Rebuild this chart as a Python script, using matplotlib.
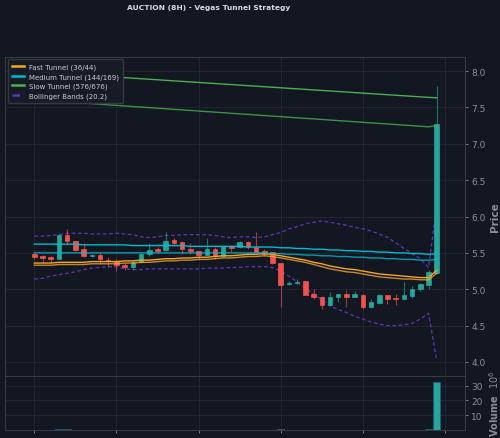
import numpy as np
import matplotlib.pyplot as plt
from matplotlib.patches import Rectangle

# candle data
opens = [5.49, 5.46, 5.45, 5.42, 5.75, 5.66, 5.55, 5.46, 5.47, 5.40,
         5.39, 5.34, 5.31, 5.37, 5.48, 5.55, 5.54, 5.68, 5.65, 5.55,
         5.53, 5.47, 5.55, 5.46, 5.59, 5.58, 5.65, 5.58, 5.53, 5.51,
         5.36, 5.07, 5.08, 5.11, 4.93, 4.90, 4.79, 4.90, 4.93, 4.90,
         4.92, 4.75, 4.81, 4.92, 4.88, 4.86, 4.91, 5.00, 5.06, 5.23]
highs = [5.50, 5.47, 5.46, 5.76, 5.83, 5.67, 5.63, 5.49, 5.51, 5.44,
         5.42, 5.36, 5.40, 5.50, 5.64, 5.58, 5.79, 5.71, 5.65, 5.63,
         5.53, 5.70, 5.58, 5.59, 5.60, 5.66, 5.66, 5.79, 5.55, 5.51,
         5.36, 5.12, 5.14, 5.11, 5.00, 4.91, 4.96, 4.94, 4.99, 4.98,
         4.94, 4.86, 4.93, 4.92, 4.93, 5.10, 5.05, 5.08, 5.26, 7.80]
lows = [5.41, 5.37, 5.36, 5.41, 5.61, 5.52, 5.45, 5.45, 5.35, 5.30,
        5.25, 5.27, 5.27, 5.36, 5.46, 5.50, 5.52, 5.61, 5.49, 5.49,
        5.42, 5.47, 5.41, 5.45, 5.51, 5.57, 5.56, 5.50, 5.46, 5.35,
        4.75, 5.06, 5.07, 4.92, 4.86, 4.73, 4.78, 4.82, 4.75, 4.90,
        4.73, 4.74, 4.80, 4.80, 4.79, 4.86, 4.88, 4.98, 5.00, 5.21]
closes = [5.45, 5.43, 5.42, 5.75, 5.66, 5.54, 5.46, 5.47, 5.42, 5.39,
          5.33, 5.31, 5.37, 5.49, 5.54, 5.53, 5.67, 5.64, 5.55, 5.52,
          5.47, 5.55, 5.46, 5.59, 5.57, 5.65, 5.58, 5.51, 5.49, 5.36,
          5.06, 5.09, 5.10, 4.92, 4.89, 4.79, 4.90, 4.93, 4.90, 4.93,
          4.75, 4.82, 4.92, 4.87, 4.86, 4.92, 5.01, 5.07, 5.24, 7.27]
volumes = [0.1, 0.1, 0.1, 0.4, 0.4, 0.1, 0.1, 0.0, 0.1, 0.1,
           0.1, 0.0, 0.1, 0.1, 0.1, 0.0, 0.1, 0.0, 0.1, 0.0,
           0.1, 0.1, 0.1, 0.1, 0.0, 0.1, 0.1, 0.1, 0.1, 0.1,
           0.4, 0.1, 0.0, 0.1, 0.1, 0.1, 0.1, 0.0, 0.1, 0.0,
           0.1, 0.1, 0.1, 0.0, 0.1, 0.1, 0.1, 0.1, 0.4, 32.7]

# indicator lines
fast_a = [5.36, 5.36, 5.36, 5.37, 5.37, 5.37, 5.37, 5.38, 5.38, 5.38,
          5.38, 5.39, 5.39, 5.40, 5.40, 5.41, 5.42, 5.42, 5.43, 5.43,
          5.44, 5.44, 5.45, 5.46, 5.46, 5.47, 5.48, 5.48, 5.49, 5.48,
          5.46, 5.44, 5.42, 5.40, 5.37, 5.35, 5.32, 5.30, 5.28, 5.27,
          5.25, 5.23, 5.21, 5.20, 5.19, 5.18, 5.17, 5.16, 5.16, 5.26]
fast_b = [5.33, 5.33, 5.33, 5.34, 5.34, 5.34, 5.34, 5.35, 5.35, 5.35,
          5.35, 5.36, 5.36, 5.37, 5.37, 5.38, 5.39, 5.39, 5.40, 5.40,
          5.41, 5.41, 5.42, 5.43, 5.43, 5.44, 5.45, 5.45, 5.46, 5.45,
          5.43, 5.41, 5.39, 5.37, 5.34, 5.31, 5.28, 5.26, 5.24, 5.23,
          5.21, 5.19, 5.17, 5.16, 5.15, 5.14, 5.14, 5.13, 5.13, 5.22]
med_a = [5.62, 5.62, 5.62, 5.62, 5.62, 5.62, 5.61, 5.61, 5.61, 5.61,
         5.61, 5.61, 5.60, 5.60, 5.60, 5.60, 5.60, 5.60, 5.60, 5.59,
         5.59, 5.59, 5.59, 5.59, 5.59, 5.59, 5.58, 5.58, 5.58, 5.58,
         5.57, 5.57, 5.56, 5.56, 5.55, 5.55, 5.54, 5.54, 5.53, 5.53,
         5.52, 5.52, 5.51, 5.51, 5.50, 5.50, 5.49, 5.49, 5.48, 5.49]
med_b = [5.50, 5.50, 5.50, 5.50, 5.50, 5.50, 5.50, 5.50, 5.50, 5.50,
         5.50, 5.50, 5.50, 5.50, 5.50, 5.50, 5.50, 5.50, 5.50, 5.50,
         5.50, 5.50, 5.50, 5.50, 5.50, 5.50, 5.50, 5.50, 5.50, 5.49,
         5.49, 5.48, 5.48, 5.47, 5.47, 5.46, 5.46, 5.45, 5.45, 5.44,
         5.44, 5.43, 5.43, 5.42, 5.42, 5.41, 5.41, 5.40, 5.40, 5.41]
slow_a = [7.990, 7.982, 7.975, 7.968, 7.960, 7.953, 7.946, 7.938, 7.931, 7.924,
          7.916, 7.909, 7.902, 7.894, 7.887, 7.880, 7.872, 7.865, 7.858, 7.850,
          7.843, 7.836, 7.828, 7.821, 7.814, 7.806, 7.799, 7.792, 7.784, 7.777,
          7.770, 7.762, 7.755, 7.748, 7.740, 7.733, 7.726, 7.718, 7.711, 7.704,
          7.696, 7.689, 7.682, 7.674, 7.667, 7.660, 7.652, 7.645, 7.638, 7.632]
slow_b = [7.605, 7.597, 7.590, 7.582, 7.574, 7.566, 7.559, 7.551, 7.543, 7.535,
          7.528, 7.520, 7.512, 7.504, 7.497, 7.489, 7.481, 7.473, 7.466, 7.458,
          7.450, 7.442, 7.435, 7.427, 7.419, 7.411, 7.404, 7.396, 7.388, 7.380,
          7.373, 7.365, 7.357, 7.349, 7.342, 7.334, 7.326, 7.318, 7.311, 7.303,
          7.295, 7.287, 7.280, 7.272, 7.264, 7.256, 7.249, 7.241, 7.233, 7.250]
bb_upper = [5.73, 5.73, 5.74, 5.75, 5.77, 5.77, 5.77, 5.76, 5.76, 5.76,
            5.77, 5.76, 5.75, 5.72, 5.71, 5.72, 5.74, 5.74, 5.75, 5.75,
            5.75, 5.75, 5.74, 5.72, 5.71, 5.72, 5.72, 5.71, 5.72, 5.75,
            5.78, 5.83, 5.86, 5.90, 5.92, 5.94, 5.92, 5.90, 5.88, 5.85,
            5.83, 5.80, 5.76, 5.71, 5.64, 5.56, 5.49, 5.42, 5.30, 6.15]
bb_lower = [5.14, 5.15, 5.18, 5.20, 5.22, 5.24, 5.27, 5.29, 5.30, 5.31,
            5.31, 5.28, 5.27, 5.27, 5.28, 5.28, 5.28, 5.28, 5.28, 5.28,
            5.28, 5.29, 5.29, 5.29, 5.30, 5.30, 5.31, 5.31, 5.31, 5.30,
            5.25, 5.18, 5.10, 5.02, 4.93, 4.86, 4.77, 4.72, 4.68, 4.63,
            4.59, 4.55, 4.52, 4.50, 4.50, 4.51, 4.53, 4.59, 4.67, 4.02]

bg = "#131722"
grid_c = "#232733"
text_c = "#8a8e99"
up_c = "#26a69a"
down_c = "#ef5350"

fig = plt.figure(figsize=(5, 4.39), dpi=100, facecolor=bg)
ax = fig.add_axes([0.01, 1 - 377.3 / 439, 0.92, (377.3 - 57.7) / 439])
axv = fig.add_axes([0.01, 1 - 430.7 / 439, 0.92, (430.7 - 377.3) / 439], sharex=ax)

x = np.arange(len(opens))

for a in (ax, axv):
    a.set_facecolor(bg)
    for s in a.spines.values():
        s.set_color("#363a45")
        s.set_linewidth(0.8)
    a.grid(True, color=grid_c, linewidth=0.6)
    a.yaxis.tick_right()
    a.yaxis.set_label_position("right")
    a.tick_params(colors=text_c, labelsize=6.5, length=2.5, width=0.6, pad=2)

# candles
w = 0.55
for i in x:
    o, h, l, c = opens[i], highs[i], lows[i], closes[i]
    col = up_c if c >= o else down_c
    ax.vlines(i, l, h, color=col, linewidth=0.8, alpha=0.65, zorder=3)
    bottom = min(o, c)
    height = max(abs(c - o), 0.006)
    ax.add_patch(Rectangle((i - w / 2, bottom), w, height, facecolor=col,
                           edgecolor=col, linewidth=0.5, zorder=4))

ax.plot(x, fast_a, color="#f5a623", linewidth=1.0, zorder=5, label="Fast Tunnel (36/44)")
ax.plot(x, fast_b, color="#f5a623", linewidth=1.0, zorder=5, alpha=0.8)
ax.plot(x, med_a, color="#00bcd4", linewidth=1.0, zorder=5, label="Medium Tunnel (144/169)")
ax.plot(x, med_b, color="#00bcd4", linewidth=1.0, zorder=5, alpha=0.8)
ax.plot(x, slow_a, color="#4caf50", linewidth=1.0, zorder=5, label="Slow Tunnel (576/676)")
ax.plot(x, slow_b, color="#4caf50", linewidth=1.0, zorder=5, alpha=0.8)
ax.plot(x, bb_upper, color="#5e35b1", linewidth=0.9, linestyle=(0, (3, 2)), zorder=2,
        label="Bollinger Bands (20.2)")
ax.plot(x, bb_lower, color="#5e35b1", linewidth=0.9, linestyle=(0, (3, 2)), zorder=2)

ax.set_ylim(3.803, 8.197)
ax.set_yticks(np.arange(4.0, 8.01, 0.5))
ax.set_ylabel("Price", color=text_c, fontsize=7.5, fontweight="bold", labelpad=3)
ax.tick_params(axis="x", labelbottom=False, length=0)

leg = ax.legend(loc="upper left", fontsize=5.0, facecolor="#181c27", edgecolor="#363a45",
                labelcolor="#c8ccd4", framealpha=0.95, handlelength=1.7, borderpad=0.6,
                labelspacing=0.45, handletextpad=0.8, borderaxespad=0.4)
for line in leg.get_lines():
    line.set_linewidth(1.8)

# volume
vcols = [up_c if closes[i] >= opens[i] else down_c for i in x]
axv.bar(x, volumes, width=0.9, color=vcols, edgecolor="#1d5f7a", linewidth=0.5, zorder=3)
axv.set_ylim(0, 36.4)
axv.set_yticks([10, 20, 30])
axv.set_ylabel("Volume  $10^6$", color=text_c, fontsize=7, fontweight="bold", labelpad=3)
axv.set_xlim(-3.57, 52.44)
axv.set_xticks([0, 10, 20, 30, 40, 50])
axv.tick_params(axis="x", labelbottom=False)

fig.text(209 / 500, 1 - 8 / 439, "AUCTION (8H) - Vegas Tunnel Strategy", ha="center",
         va="center", color="#d8dbe2", fontsize=5.4, fontweight="bold")

fig.savefig("out.png", dpi=100, facecolor=bg)
